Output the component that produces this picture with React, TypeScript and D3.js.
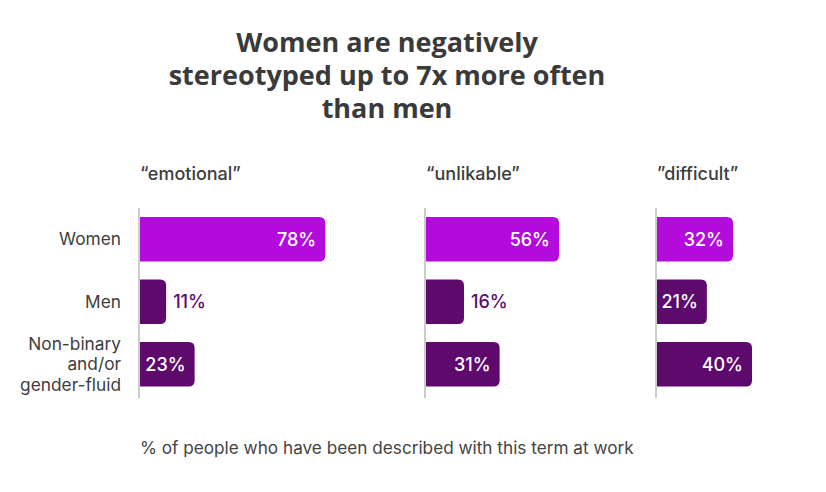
import React from "react";
import * as d3 from "d3";

const titleLines = ["Women are negatively", "stereotyped up to 7x more often", "than men"];
const groups = ["Women", "Men", "Non-binary and/or gender-fluid"];
const groupLabelLines = [["Women"], ["Men"], ["Non-binary", "and/or", "gender-fluid"]];
const terms = ["\u201Cemotional\u201D", "\u201Cunlikable\u201D", "\u201Ddifficult\u201D"];
const emotional = [78, 11, 23];
const unlikable = [56, 16, 31];
const difficult = [32, 21, 40];
const series = [emotional, unlikable, difficult];
const footnote = "% of people who have been described with this term at work";

const W = 826;
const H = 492;
const panelX = [140, 426, 657];
const pxPerPct = 2.375;
const bodyFont = "Inter, 'Noto Sans', sans-serif";
const colors = ["#b30bdb", "#5e0a6d", "#5e0a6d"];

function roundedRight(x: number, y: number, w: number, h: number, r: number) {
  const rr = Math.min(r, w, h / 2);
  return `M${x},${y}H${x + w - rr}Q${x + w},${y} ${x + w},${y + rr}V${y + h - rr}Q${x + w},${y + h} ${x + w - rr},${y + h}H${x}Z`;
}

export default function App() {
  const y = d3.scaleBand<string>().domain(groups).range([217, 386.5]).paddingInner(0.288).paddingOuter(0);
  const bh = y.bandwidth();
  return (
    <svg width={W} height={H} style={{ display: "block", position: "absolute", left: 0, top: 0 }}>
      <rect width={W} height={H} fill="#fff" />
      <text textAnchor="middle" fontFamily="'Open Sans', sans-serif" fontWeight={700} fontSize={27} fill="#3a3a3a">
        {titleLines.map((t, i) => (
          <tspan key={i} x={387} y={52 + i * 33}>
            {t}
          </tspan>
        ))}
      </text>
      {groups.map((g, gi) => {
        const lines = groupLabelLines[gi];
        const cy = (y(g) as number) + bh / 2;
        const lh = 20.5;
        return (
          <text key={g} textAnchor="end" fontFamily={bodyFont} fontSize={17.3} fill="#3d3d3d">
            {lines.map((l, li) => (
              <tspan key={li} x={121} y={cy + (li - (lines.length - 1) / 2) * lh + 6}>
                {l}
              </tspan>
            ))}
          </text>
        );
      })}
      {series.map((vals, si) => {
        const x0 = panelX[si];
        const x = d3.scaleLinear().domain([0, 100]).range([x0, x0 + 100 * pxPerPct]);
        return (
          <g key={si}>
            <text x={x0} y={180} fontFamily={bodyFont} fontSize={18} fontWeight={500} fill="#3d3d3d">
              {terms[si]}
            </text>
            {groups.map((g, gi) => {
              const v = vals[gi];
              const yy = y(g) as number;
              const w = x(v) - x0;
              const inside = v >= 20;
              return (
                <g key={g}>
                  <path d={roundedRight(x0, yy, w, bh, 6)} fill={colors[gi]} />
                  <text
                    x={inside ? x(v) - 9 : x(v) + 7}
                    y={yy + bh / 2 + 6.5}
                    textAnchor={inside ? "end" : "start"}
                    fontFamily={bodyFont}
                    fontSize={18}
                    fontWeight={500}
                    fill={inside ? "#fff" : "#5e0a6d"}
                  >
                    {v}%
                  </text>
                </g>
              );
            })}
            <line x1={x0 - 1} x2={x0 - 1} y1={208} y2={398} stroke="#cccccc" strokeWidth={2} />
          </g>
        );
      })}
      <text x={140} y={454} fontFamily={bodyFont} fontSize={17.2} fill="#444">
        {footnote}
      </text>
    </svg>
  );
}
